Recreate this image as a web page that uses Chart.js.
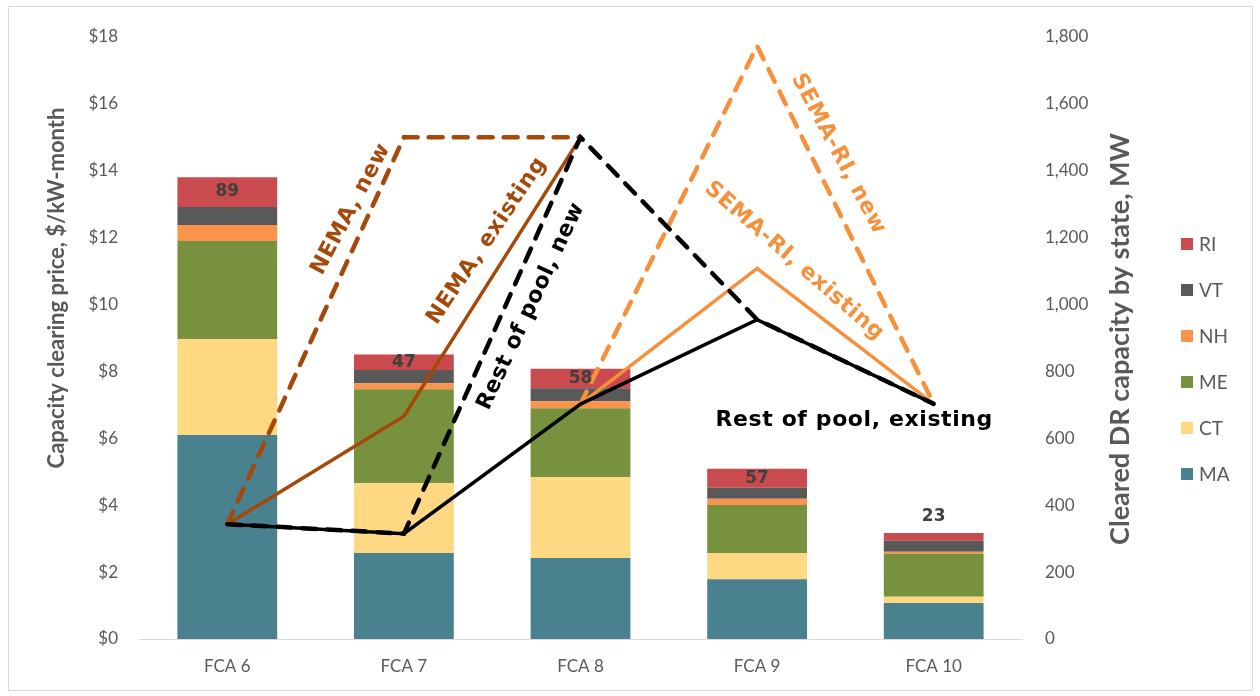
<!DOCTYPE html>
<html><head><meta charset="utf-8">
<script src="https://cdn.jsdelivr.net/npm/chart.js@4.4.0/dist/chart.umd.min.js"></script>
<style>
html,body{margin:0;padding:0;background:#fff;}
canvas{display:block;}
</style></head><body>
<canvas id="c" width="1260" height="696"></canvas>
<script>
// Forward capacity auctions
const auctions = ['FCA 6', 'FCA 7', 'FCA 8', 'FCA 9', 'FCA 10'];

// Cleared demand-response capacity by state, MW
const maMW = [610, 257, 242, 179, 108];
const ctMW = [287, 209, 242, 78, 18];
const meMW = [293, 281, 206, 144, 129];
const nhMW = [48, 18, 21, 18, 6];
const vtMW = [54, 39, 39, 33, 33];
const riMW = [89, 47, 58, 57, 23];

// Capacity clearing prices, $/kW-month
const restExisting = [3.434, 3.15, 7.025, 9.551, 7.03];
const restNew = [3.434, 3.15, 15.0, 9.551, 7.03];
const nemaNew = [3.434, 15.0, 15.0, null, null];
const nemaExisting = [3.434, 6.66, 15.0, null, null];
const semaNew = [null, null, 7.025, 17.73, 7.03];
const semaExisting = [null, null, 7.025, 11.08, 7.03];

// Axis tick values
const priceTicks = [0, 2, 4, 6, 8, 10, 12, 14, 16, 18];
const mwTicks = [0, 200, 400, 600, 800, 1000, 1200, 1400, 1600, 1800];

const BROWN = '#a5490b';
const ORANGE = '#f7903a';
const BLACK = '#000000';
const GREY_TEXT = '#595959';
const FONT = 'Lato, "Open Sans", sans-serif';
const LABEL_FONT = '"DejaVu Sans", "Open Sans", sans-serif';

// Inline curve labels: [text, colour, category position, price, angle in degrees]
const curveLabels = [
  ['NEMA, new', BROWN, 0.70, 12.85, -62],
  ['NEMA, existing', BROWN, 1.47, 11.9, -56],
  ['Rest of pool, new', BLACK, 1.72, 9.95, -65],
  ['SEMA-RI, new', ORANGE, 3.46, 14.5, 62],
  ['SEMA-RI, existing', ORANGE, 3.21, 11.3, 41],
  ['Rest of pool, existing', BLACK, 3.55, 6.55, 0]
];

function lineSet(label, data, color, dashed) {
  return {
    type: 'line', label, data, yAxisID: 'y', order: 0,
    borderColor: color, backgroundColor: color,
    borderWidth: dashed ? 4.5 : 3.5,
    borderDash: dashed ? [14, 11] : [],
    borderCapStyle: dashed ? 'round' : 'butt',
    borderJoinStyle: 'miter',
    pointRadius: 0, tension: 0, fill: false, spanGaps: false
  };
}
function barSet(label, data, color) {
  return {
    type: 'bar', label, data, yAxisID: 'y2', order: 1, stack: 'dr',
    backgroundColor: color, borderWidth: 0,
    categoryPercentage: 1, barPercentage: 0.565
  };
}

const datasets = [
  lineSet('Rest of pool, existing', restExisting, BLACK, false),
  lineSet('Rest of pool, new', restNew, BLACK, true),
  lineSet('SEMA-RI, existing', semaExisting, ORANGE, false),
  lineSet('SEMA-RI, new', semaNew, ORANGE, true),
  lineSet('NEMA, existing', nemaExisting, BROWN, false),
  lineSet('NEMA, new', nemaNew, BROWN, true),
  barSet('MA', maMW, '#4a818f'),
  barSet('CT', ctMW, '#fed882'),
  barSet('ME', meMW, '#77913f'),
  barSet('NH', nhMW, '#f8944b'),
  barSet('VT', vtMW, '#595959'),
  barSet('RI', riMW, '#c94b4e')
];

// Value labels on the RI segments, inline curve labels, axis titles, legend, frame
const decorations = {
  id: 'decorations',
  afterDatasetsDraw(chart) {
    const ctx = chart.ctx;
    const x = chart.scales.x, y = chart.scales.y;
    // RI values
    const riIndex = chart.data.datasets.findIndex(d => d.label === 'RI');
    const meta = chart.getDatasetMeta(riIndex);
    ctx.save();
    ctx.font = 'bold 17px ' + LABEL_FONT;
    ctx.fillStyle = '#404040';
    ctx.textAlign = 'center';
    ctx.textBaseline = 'middle';
    meta.data.forEach((bar, i) => {
      const h = Math.abs(bar.base - bar.y);
      const cy = h >= 14 ? (bar.y + bar.base) / 2 : bar.y - 16;
      ctx.fillText(String(riMW[i]), bar.x, cy);
    });
    ctx.restore();

    // curve labels
    curveLabels.forEach(([text, color, pos, price, ang]) => {
      ctx.save();
      ctx.translate(x.getPixelForValue(pos), y.getPixelForValue(price));
      ctx.rotate(ang * Math.PI / 180);
      ctx.font = 'bold 22px ' + LABEL_FONT;
      if ('letterSpacing' in ctx) ctx.letterSpacing = '0.6px';
      ctx.fillStyle = color;
      ctx.textAlign = 'center';
      ctx.textBaseline = 'middle';
      ctx.fillText(text, 0, 0);
      ctx.restore();
    });
  },
  afterDraw(chart) {
    const ctx = chart.ctx;
    ctx.save();
    // outer frame
    ctx.strokeStyle = '#d9d9d9';
    ctx.lineWidth = 1;
    ctx.strokeRect(8.5, 6.5, 1244, 684);

    // axis titles
    ctx.fillStyle = GREY_TEXT;
    ctx.textAlign = 'center';
    ctx.textBaseline = 'middle';
    ctx.save();
    ctx.translate(57, 288);
    ctx.rotate(-Math.PI / 2);
    ctx.font = 'bold 22px ' + FONT;
    ctx.fillText('Capacity clearing price, $/kW-month', 0, 0);
    ctx.restore();
    ctx.save();
    ctx.translate(1120, 339);
    ctx.rotate(-Math.PI / 2);
    ctx.font = 'bold 27px ' + FONT;
    ctx.fillText('Cleared DR capacity by state, MW', 0, 0);
    ctx.restore();

    // legend (bar series, top of stack first)
    const bars = chart.data.datasets.filter(d => d.type === 'bar').slice().reverse();
    ctx.font = '19px ' + FONT;
    ctx.textAlign = 'left';
    bars.forEach((d, i) => {
      const cy = 244 + i * 46;
      ctx.fillStyle = d.backgroundColor;
      ctx.fillRect(1181, cy - 6, 12, 12);
      ctx.fillStyle = GREY_TEXT;
      ctx.fillText(d.label, 1199, cy + 1);
    });
    ctx.restore();
  }
};

new Chart(document.getElementById('c'), {
  data: { labels: auctions, datasets },
  options: {
    responsive: false,
    animation: false,
    layout: { padding: { left: 20, right: 120, top: 37, bottom: 17 } },
    plugins: { legend: { display: false }, tooltip: { enabled: false } },
    scales: {
      x: {
        stacked: true,
        offset: true,
        grid: { display: false, drawTicks: false },
        border: { display: true, color: '#d9d9d9', width: 1 },
        ticks: { color: GREY_TEXT, font: { family: FONT, size: 17 }, padding: 17 },
        afterFit(s) { s.height = 40; }
      },
      y: {
        position: 'left',
        stacked: false,
        min: 0, max: 18,
        grid: { display: false, drawTicks: false },
        border: { display: false },
        afterBuildTicks(s) { s.ticks = priceTicks.map(v => ({ value: v })); },
        ticks: {
          color: GREY_TEXT, font: { family: FONT, size: 17 }, padding: 21,
          callback: v => '$' + v
        },
        afterFit(s) { s.width = 119; }
      },
      y2: {
        position: 'right',
        stacked: true,
        min: 0, max: 1800,
        grid: { display: false, drawTicks: false },
        border: { display: false },
        afterBuildTicks(s) { s.ticks = mwTicks.map(v => ({ value: v })); },
        ticks: {
          color: GREY_TEXT, font: { family: FONT, size: 17 }, padding: 23,
          callback: v => v.toLocaleString('en-US')
        },
        afterFit(s) { s.width = 118; }
      }
    }
  },
  plugins: [decorations]
});
</script>
</body></html>
